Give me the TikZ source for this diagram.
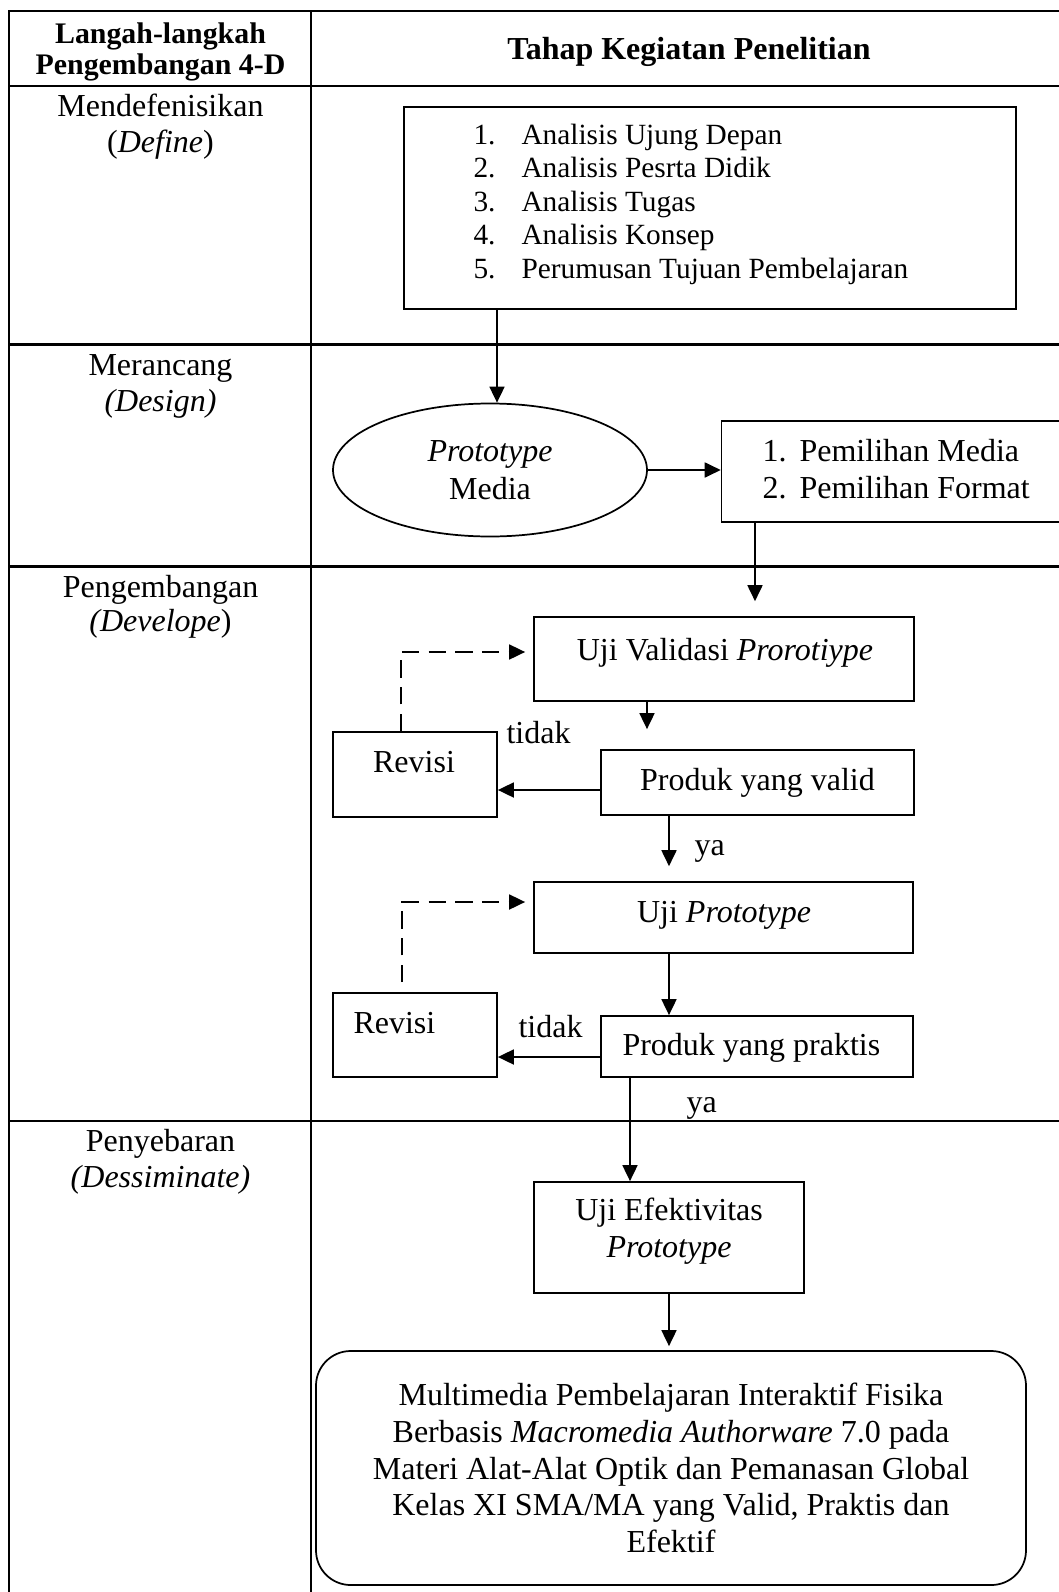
\documentclass[tikz,border=0pt]{standalone}
\usepackage{fontspec}
\setmainfont{Liberation Serif}
\usetikzlibrary{arrows.meta,shapes.geometric}
\begin{document}
\begin{tikzpicture}[x=0.375pt,y=-0.375pt,
  every node/.style={font=\fontsize{12}{13.8}\selectfont, inner sep=0pt},
  tbl/.style={line width=0.9pt},
  box/.style={draw, line width=0.65pt, rectangle, inner sep=0pt},
  arr/.style={line width=0.75pt, -{Triangle[length=6pt,width=5.6pt]}},
  dsh/.style={line width=0.75pt, dash pattern=on 6.5pt off 3.5pt, -{Triangle[length=6pt,width=5.6pt]}},
  txt/.style={anchor=base},
  txtl/.style={anchor=base west},
  hd/.style={font=\fontsize{11.2}{13}\selectfont\bfseries, anchor=base},
  lst/.style={font=\fontsize{11}{12.6}\selectfont, anchor=base west}
]
\useasboundingbox (0,0) rectangle (1059,1592);
\clip (0,0) rectangle (1059,1592);

% table grid
\draw[tbl] (1075,11) -- (9,11) -- (9,1600);
\draw[tbl] (311,11) -- (311,1600);
\draw[tbl] (9,86) -- (1075,86);
\draw[tbl] (9,344.5) -- (1075,344.5);
\draw[tbl] (9,566.5) -- (1075,566.5);
\draw[tbl] (9,1121) -- (1075,1121);

% header
\node[hd] (h1) at (160.5,43.5) {Langah-langkah};
\node[hd] (h2) at (160.5,74) {Pengembangan 4-D};
\node[txt, font=\fontsize{12}{13.8}\selectfont\bfseries] (h3) at (689,59) {Tahap Kegiatan Penelitian};

% left column
\node[txt] (l1) at (160.5,116) {Mendefenisikan};
\node[txt] (l2) at (160.5,152) {(\textit{Define})};
\node[txt] (l3) at (160.5,375) {Merancang};
\node[txt] (l4) at (160.5,411) {\textit{(Design)}};
\node[txt] (l5) at (160.5,597) {Pengembangan};
\node[txt] (l6) at (160.5,631) {\textit{(Develope})};
\node[txt] (l7) at (160.5,1151) {Penyebaran};
\node[txt] (l8) at (160.5,1187) {\textit{(Dessiminate)}};

% boxes
\node[box, minimum width=229.5pt, minimum height=75.75pt] (def) at (710,208) {};
\node[draw, ellipse, line width=0.65pt, inner sep=0pt, minimum width=117.75pt, minimum height=49.875pt, align=center, font=\fontsize{12}{14.4}\selectfont] (ell) at (490,470) {\textit{Prototype}\\Media};
\node[box, minimum width=134.4pt, minimum height=37.875pt] (pf) at (900.8,471.5) {};
\node[box, minimum width=142.5pt, minimum height=31.5pt] (uv) at (724,659) {};
\node[box, minimum width=61.5pt, minimum height=31.875pt] (rv1) at (415,774.5) {};
\node[box, minimum width=117.375pt, minimum height=24.375pt] (pv) at (757.5,782.5) {};
\node[box, minimum width=142.125pt, minimum height=26.625pt] (up) at (723.5,917.5) {};
\node[box, minimum width=61.5pt, minimum height=31.5pt] (rv2) at (415,1035) {};
\node[box, minimum width=117pt, minimum height=22.875pt] (pp) at (757,1046.5) {};
\node[box, minimum width=101.25pt, minimum height=41.625pt] (ue) at (669,1237.5) {};
\node[box, rounded corners=13pt, minimum width=266.25pt, minimum height=87.75pt, align=center, font=\fontsize{12}{13.8}\selectfont] (fin) at (671,1468) {Multimedia Pembelajaran Interaktif Fisika\\Berbasis \textit{Macromedia Authorware} 7.0 pada\\Materi Alat-Alat Optik dan Pemanasan Global\\Kelas XI SMA/MA yang Valid, Praktis dan\\Efektif};

% box texts
\node[lst] (d1) at (473,144) {\makebox[18pt][l]{1.}Analisis Ujung Depan};
\node[lst] (d2) at (473,177) {\makebox[18pt][l]{2.}Analisis Pesrta Didik};
\node[lst] (d3) at (473,211.5) {\makebox[18pt][l]{3.}Analisis Tugas};
\node[lst] (d4) at (473,244.5) {\makebox[18pt][l]{4.}Analisis Konsep};
\node[lst] (d5) at (473,278) {\makebox[18pt][l]{5.}Perumusan Tujuan Pembelajaran};
\node[txtl] (p1) at (762,461) {\makebox[13.9pt][l]{1.}Pemilihan Media};
\node[txtl] (p2) at (762,498) {\makebox[13.9pt][l]{2.}Pemilihan Format};
\node[txt] (uvt) at (725,660) {Uji Validasi \textit{Prorotiype}};
\node[txt] (rv1t) at (414,772) {Revisi};
\node[txtl] (tidak1) at (506,743) {tidak};
\node[txt] (pvt) at (757.5,790) {Produk yang valid};
\node[txtl] (ya1) at (694,855) {ya};
\node[txt] (upt) at (724,922) {Uji \textit{Prototype}};
\node[txtl] (rv2t) at (353,1033) {Revisi};
\node[txtl] (tidak2) at (518,1037) {tidak};
\node[txtl] (ppt) at (622,1055) {Produk yang praktis};
\node[txtl] (ya2) at (686,1112) {ya};
\node[txt] (ue1) at (669,1220) {Uji Efektivitas};
\node[txt] (ue2) at (669,1257) {\textit{Prototype}};

% helper coordinates
\coordinate (c1) at (497,0);
\coordinate (c2) at (755,0);
\coordinate (c3) at (647,0);
\coordinate (c4) at (0,790);
\coordinate (c5) at (401,652);
\coordinate (c6) at (669,0);
\coordinate (c7) at (0,1057);
\coordinate (c8) at (402,902);
\coordinate (c9) at (630,0);

% connectors
\draw[arr] (def.south -| c1) -- (ell.north -| c1);
\draw[arr] (ell.east) -- (ell.east -| pf.west);
\draw[arr, shorten >=5.6pt] (pf.south -| c2) -- (uv.north -| c2);
\draw[arr, shorten >=7.5pt] (uv.south -| c3) -- (pv.north -| c3);
\draw[arr] (pv.west |- c4) -- (rv1.east |- c4);
\draw[dsh, shorten >=3pt] (rv1.north -| c5) -- (c5) -- (uv.west |- c5);
\draw[arr, shorten >=5.6pt] (pv.south -| c6) -- (up.north -| c6);
\draw[arr] (up.south -| c6) -- (pp.north -| c6);
\draw[arr] (pp.west |- c7) -- (rv2.east |- c7);
\draw[dsh, shorten <=3.75pt, shorten >=3pt] (rv2.north -| c8) -- (c8) -- (up.west |- c8);
\draw[arr] (pp.south -| c9) -- (ue.north -| c9);
\draw[arr, shorten >=1.5pt] (ue.south) -- (ue.south |- fin.north);
\end{tikzpicture}
\end{document}
